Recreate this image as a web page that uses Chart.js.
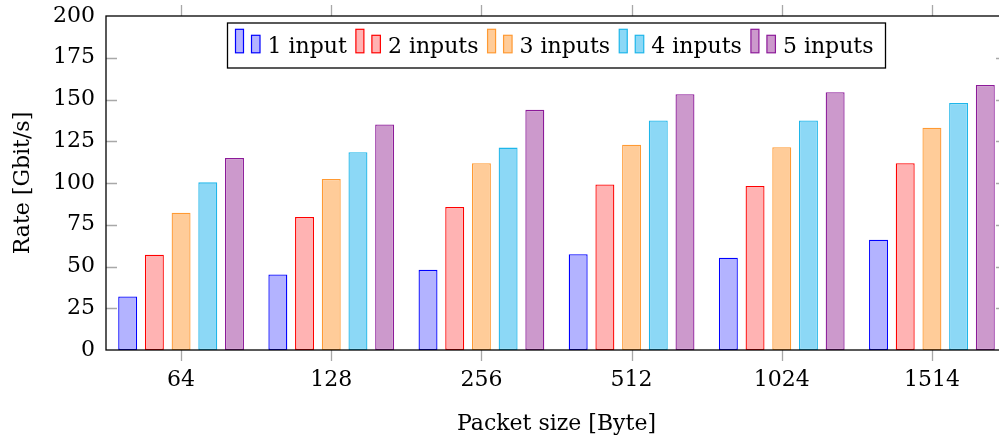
<!DOCTYPE html>
<html lang="en">
<head>
  <meta charset="UTF-8" />
  <title>Rate vs packet size</title>
  <script src="https://cdn.jsdelivr.net/npm/chart.js"></script>
  <style>
    body {
      margin: 0;
      background: #fff;
      overflow: hidden;
    }

    .wrap {
      width: 1010px;
      height: 438px;
    }
  </style>
</head>
<body>

  <div class="wrap">
    <canvas id="rateChart" width="1010" height="438"></canvas>
  </div>

  <script>
    // values (Gbit/s)
    const packetSizes = ['64', '128', '256', '512', '1024', '1514'];
    const oneInput    = [32, 45.2, 48, 57.3, 55.3, 66];
    const twoInputs   = [57, 79.6, 85.7, 99.1, 98.2, 111.8];
    const threeInputs = [82.2, 102.4, 111.8, 122.9, 121.4, 133.1];
    const fourInputs  = [100.4, 118.4, 121.2, 137.4, 137.5, 147.9];
    const fiveInputs  = [115, 135.1, 143.8, 153.2, 154.3, 158.7];
    const seriesNames = ['1 input', '2 inputs', '3 inputs', '4 inputs', '5 inputs'];
    const yTicks = [0, 25, 50, 75, 100, 125, 150, 175, 200];

    const fillColors = ['#b3b3ff', '#ffb3b3', '#ffcc99', '#8cd8f6', '#cc99cc'];
    const lineColors = ['#0000ff', '#ff0000', '#ff9a33', '#1eb6ea', '#8c1a99'];

    const FONT = "'DejaVu Serif', serif";
    const FSIZE = 22;

    // pgfplots-like frame: inward y ticks, outward x ticks on both sides
    const pgfAxes = {
      id: 'pgfAxes',
      afterDatasetsDraw(chart) {
        const { ctx, chartArea: a, scales: { x, y } } = chart;
        ctx.save();
        ctx.strokeStyle = '#a8a8a8';
        ctx.lineWidth = 1.3;
        ctx.beginPath();
        y.ticks.forEach(t => {
          if (t.value === 0 || t.value === 200) return;
          const py = Math.round(y.getPixelForValue(t.value)) + 0.5;
          ctx.moveTo(a.left, py); ctx.lineTo(a.left + 11, py);
          ctx.moveTo(a.right, py); ctx.lineTo(a.right - 11, py);
        });
        x.ticks.forEach((t, i) => {
          const px = Math.round(x.getPixelForTick(i)) + 0.5;
          ctx.moveTo(px, a.bottom); ctx.lineTo(px, a.bottom + 11);
          ctx.moveTo(px, a.top); ctx.lineTo(px, a.top - 11);
        });
        ctx.stroke();
        ctx.strokeStyle = '#000';
        ctx.lineWidth = 1.3;
        ctx.strokeRect(a.left, a.top, a.right - a.left, a.bottom - a.top);
        ctx.restore();
      }
    };

    // boxed legend with the two-bar ybar glyph
    const barLegend = {
      id: 'barLegend',
      afterDraw(chart) {
        const { ctx, chartArea: a } = chart;
        ctx.save();
        ctx.font = FSIZE + 'px ' + FONT;
        const glyphW = 25, textGap = 7, itemGap = 7, padL = 8, padR = 12;
        const widths = seriesNames.map(n => ctx.measureText(n).width);
        let total = padL + padR;
        widths.forEach((w, i) => { total += glyphW + textGap + w + (i < widths.length - 1 ? itemGap : 0); });
        const boxW = Math.max(total, 658);
        const extra = (boxW - total) / (seriesNames.length - 1);
        const boxL = (a.left + a.right) / 2 - boxW / 2;
        const boxT = a.top + 7;
        const boxH = 45;

        ctx.fillStyle = '#fff';
        ctx.fillRect(boxL, boxT, boxW, boxH);
        ctx.strokeStyle = '#000';
        ctx.lineWidth = 1.3;
        ctx.strokeRect(boxL, boxT, boxW, boxH);

        const base = boxT + 30.3;
        let cx = boxL + padL;
        chart.data.datasets.forEach((ds, i) => {
          ctx.fillStyle = ds.backgroundColor;
          ctx.strokeStyle = ds.borderColor;
          ctx.lineWidth = 1.2;
          ctx.fillRect(cx, base - 24, 8, 23.5);
          ctx.strokeRect(cx, base - 24, 8, 23.5);
          ctx.fillRect(cx + 16, base - 18, 8.5, 17.5);
          ctx.strokeRect(cx + 16, base - 18, 8.5, 17.5);
          ctx.fillStyle = '#000';
          ctx.textBaseline = 'alphabetic';
          ctx.fillText(seriesNames[i], cx + glyphW + textGap, base);
          cx += glyphW + textGap + widths[i] + itemGap + extra;
        });
        ctx.restore();
      }
    };

    const allSeries = [oneInput, twoInputs, threeInputs, fourInputs, fiveInputs];

    new Chart(document.getElementById('rateChart'), {
      type: 'bar',
      data: {
        labels: packetSizes,
        datasets: allSeries.map((vals, i) => ({
          label: seriesNames[i],
          data: vals,
          backgroundColor: fillColors[i],
          borderColor: lineColors[i],
          borderWidth: 1.3,
          borderSkipped: false,
          categoryPercentage: 0.889,
          barPercentage: 0.71
        }))
      },
      options: {
        responsive: false,
        animation: false,
        layout: { padding: { top: 16, right: 3, left: 0, bottom: 0 } },
        plugins: {
          legend: { display: false },
          tooltip: { enabled: false }
        },
        scales: {
          x: {
            grid: { display: false, drawTicks: false },
            border: { display: false },
            ticks: { color: '#000', font: { family: FONT, size: FSIZE }, padding: 17 },
            title: {
              display: true,
              text: 'Packet size [Byte]',
              color: '#000',
              font: { family: FONT, size: FSIZE },
              padding: { top: 0, bottom: 1 }
            },
            afterFit: s => { s.height = 88; s.paddingLeft = 0; s.paddingRight = 0; }
          },
          y: {
            min: 0,
            max: 200,
            grid: { display: false, drawTicks: false },
            border: { display: false },
            afterBuildTicks: s => { s.ticks = yTicks.map(v => ({ value: v })); },
            ticks: { color: '#000', font: { family: FONT, size: FSIZE }, padding: 11 },
            title: {
              display: true,
              text: 'Rate [Gbit/s]',
              color: '#000',
              font: { family: FONT, size: FSIZE },
              padding: { top: 10, bottom: 0 }
            },
            afterFit: s => { s.width = 106; s.paddingTop = 0; s.paddingBottom = 0; }
          }
        }
      },
      plugins: [pgfAxes, barLegend]
    });
  </script>
</body>
</html>
